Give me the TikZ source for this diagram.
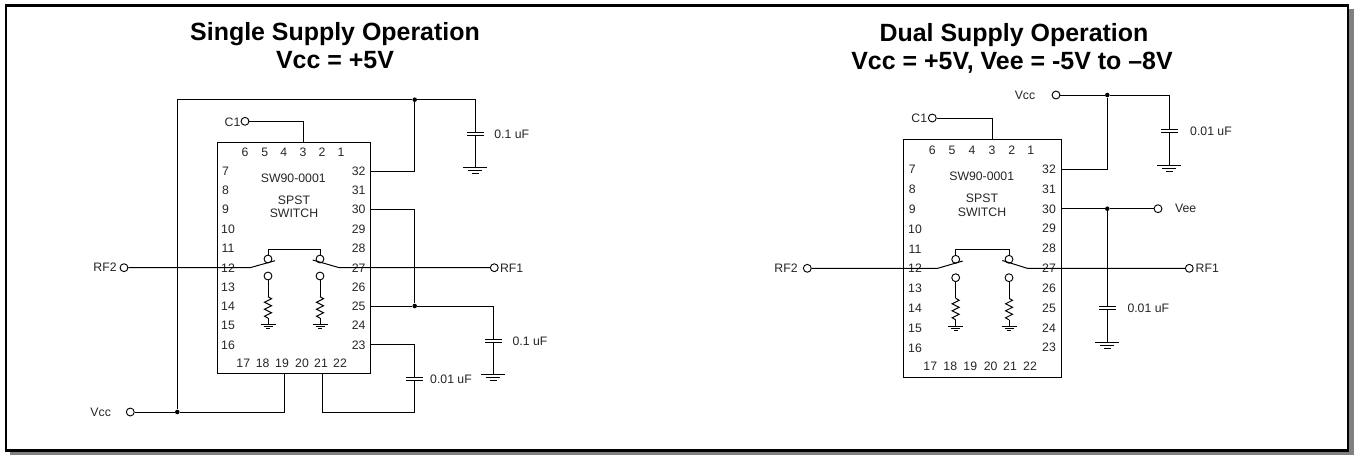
\documentclass[tikz,border=0pt]{standalone}
\usepackage{fontspec}
\setmainfont{Liberation Sans}
\newcommand{\CapAt}[2]{\draw[wire,fill=white] (#1-8,#2-1.6) rectangle (#1+8,#2+1.6);\fill[white] (#1-9,#2-0.9) rectangle (#1+9,#2+0.9);}
\newcommand{\GndAt}[2]{\draw[wire] (#1-12,#2) -- (#1+12,#2) (#1-7,#2+3) -- (#1+7,#2+3) (#1-3.5,#2+6) -- (#1+3.5,#2+6);}
\newcommand{\SmallGnd}[2]{\draw[wire] (#1-7.5,#2) -- (#1+7.5,#2) (#1-4.5,#2+2) -- (#1+4.5,#2+2) (#1-2,#2+4) -- (#1+2,#2+4);}
\newcommand{\ResAt}[2]{\draw[wire] (#1,#2) -- ++(3.5,2) -- ++(-7,3.5) -- ++(7,3.5) -- ++(-7,3.5) -- ++(7,3.5) -- ++(-7,3.5) -- ++(3.5,2);}
\begin{document}
\begin{tikzpicture}[x=0.75pt,y=-0.75pt,
  wire/.style={line width=0.75pt,black},
  term/.style={circle,draw=black,line width=0.7pt,fill=white,minimum size=5.9pt,inner sep=0pt},
  dotj/.style={circle,fill=black,minimum size=3.4pt,inner sep=0pt},
  lbl/.style={font=\fontsize{9.2}{10}\selectfont,inner sep=0pt,text=black!85},
  ttl/.style={font=\fontsize{18.7}{20}\selectfont\bfseries,inner sep=0pt,anchor=base},
  chip/.style={draw=black,line width=0.75pt}]
\useasboundingbox (0,0) rectangle (1354,455);
\fill[black!50] (10,9) rectangle (1354,455);
\draw[line width=1.9pt,fill=white] (6.2,5.3) rectangle (1347.8,450.3);

\node[ttl] (t1a) at (335,40) {Single Supply Operation};
\node[ttl] (t1b) at (335,68) {Vcc = +5V};
\node[ttl] (t2a) at (1014,41.5) {Dual Supply Operation};
\node[ttl] (t2b) at (1012,69) {Vcc = +5V, Vee = -5V to –8V};

% ===== LEFT =====
\node[chip,minimum width=115pt,minimum height=173.5pt,inner sep=0pt] (A) at (293.85,257.8) {};
\foreach \n/\x in {6/245,5/264.7,4/283.7,3/303,2/322,1/341}
  \node[lbl] (Ap\n) at (\x,152.7) {\n};
\foreach \n/\y/\x in {7/171.3/225.5,8/190.5/225.5,9/209.7/225.5,10/229/228,11/248.5/228,12/268/228,13/287/228,14/306.5/228,15/325.7/228,16/345/228}
  \node[lbl] (Ap\n) at (\x,\y) {\n};
\foreach \n/\y in {32/171.3,31/190.5,30/209.7,29/229,28/248.5,27/268,26/287,25/306.5,24/325.7,23/345}
  \node[lbl] (Ap\n) at (358.7,\y) {\n};
\foreach \n/\x in {17/243.3,18/262.7,19/282,20/302,21/321,22/340}
  \node[lbl] (Ap\n) at (\x,363.3) {\n};
\node[lbl] (Asw) at (293.3,178) {SW90-0001};
\node[lbl] (As1) at (294,200) {SPST};
\node[lbl] (As2) at (294,213.3) {SWITCH};

\node[term] (AC1) at (245,121.3) {};
\node[lbl] (AC1l) at (232.5,122) {C1};
\node[term] (ARF2) at (124,267.7) {};
\node[lbl] (ARF2l) at (105,267.5) {RF2};
\node[term] (ARF1) at (494.3,267.7) {};
\node[lbl] (ARF1l) at (511.7,268) {RF1};
\node[term] (AVcc) at (130.3,412) {};
\node[lbl] (AVccl) at (100.7,412.5) {Vcc};
\node[dotj] (Aj1) at (414.7,99.7) {};
\node[dotj] (Aj2) at (414.7,306) {};
\node[dotj] (Aj3) at (177.3,412) {};
\node[term] (Asa) at (268,259) {};
\node[term] (Asb) at (320,259) {};
\node[term] (Ara) at (268,276) {};
\node[term] (Arb) at (320,276) {};
\node[lbl] (Ac1l) at (511.7,134) {0.1 uF};
\node[lbl] (Ac2l) at (530,341) {0.1 uF};
\node[lbl] (Ac3l) at (451,379.5) {0.01 uF};

\draw[wire] (AC1) -- (303,121.3) -- (303,142.3);
\draw[wire] (Aj3) -- (177.3,99.7) -- (Aj1) -- (475,99.7) -- (475,167);
\CapAt{475}{134}
\GndAt{475}{167}
\draw[wire] (Aj1) -- (414.7,171.3) -- (370.7,171.3);
\draw[wire] (370.7,209.7) -- (414.7,209.7) -- (Aj2);
\draw[wire] (370.7,306) -- (Aj2) -- (493.3,306) -- (493.3,374);
\CapAt{493.3}{340.7}
\GndAt{493.3}{374}
\draw[wire] (370.7,344.3) -- (414.3,344.3) -- (414.3,412) -- (322.7,412) -- (322.7,373.3);
\CapAt{414.3}{379}
\draw[wire] (AVcc) -- (Aj3) -- (284.3,412) -- (284.3,373.3);
\draw[wire] (ARF2) -- (250,267.7) -- (275,260.7);
\draw[wire] (ARF1) -- (339.3,267.7) -- (312.7,260);
\draw[wire] (Asa) -- (268,249) -- (320,249) -- (Asb);
\draw[wire] (Ara) -- (268,296.7); \ResAt{268}{296.7}
\draw[wire] (Arb) -- (320,296.7); \ResAt{320}{296.7}
\draw[wire] (268,318) -- (268,324.3); \SmallGnd{268}{324.3}
\draw[wire] (320,318) -- (320,324.3); \SmallGnd{320}{324.3}

% ===== RIGHT =====
\node[chip,minimum width=118.8pt,minimum height=178.5pt,inner sep=0pt] (B) at (982.5,258.3) {};
\foreach \n/\x in {6/932.3,5/952,4/972,3/992,2/1011.7,1/1030.7}
  \node[lbl] (Bp\n) at (\x,150.7) {\n};
\foreach \n/\y/\x in {7/169.3/912.3,8/189/912.3,9/209/912.3,10/229/915,11/249/915,12/268.7/915,13/288.3/915,14/308.5/915,15/328/915,16/348/915}
  \node[lbl] (Bp\n) at (\x,\y) {\n};
\foreach \n/\y in {32/169.3,31/189,30/209,29/228.7,28/248.7,27/268.7,26/288.3,25/308.3,24/328,23/347.7}
  \node[lbl] (Bp\n) at (1049,\y) {\n};
\foreach \n/\x in {17/930.3,18/950.3,19/970.3,20/990.7,21/1010,22/1030}
  \node[lbl] (Bp\n) at (\x,366.7) {\n};
\node[lbl] (Bsw) at (981.7,176) {SW90-0001};
\node[lbl] (Bs1) at (982,198.3) {SPST};
\node[lbl] (Bs2) at (982,212.3) {SWITCH};

\node[term] (BC1) at (932.3,118) {};
\node[lbl] (BC1l) at (919.3,118.5) {C1};
\node[term] (BRF2) at (807.3,268.3) {};
\node[lbl] (BRF2l) at (786,268.3) {RF2};
\node[term] (BRF1) at (1189.3,268.3) {};
\node[lbl] (BRF1l) at (1207.3,268.5) {RF1};
\node[term] (BVcc) at (1056,95) {};
\node[lbl] (BVccl) at (1025,95.5) {Vcc};
\node[term] (BVee) at (1158,208.7) {};
\node[lbl] (BVeel) at (1185.7,208.7) {Vee};
\node[dotj] (Bj1) at (1107.3,95) {};
\node[dotj] (Bj2) at (1107.3,208.7) {};
\node[term] (Bsa) at (955.7,259.3) {};
\node[term] (Bsb) at (1009,259.3) {};
\node[term] (Bra) at (955.7,277.7) {};
\node[term] (Brb) at (1009,277.7) {};
\node[lbl] (Bc1l) at (1211,131) {0.01 uF};
\node[lbl] (Bc2l) at (1148.3,308.5) {0.01 uF};

\draw[wire] (BC1) -- (992,118) -- (992,139.3);
\draw[wire] (BVcc) -- (Bj1) -- (1169.3,95) -- (1169.3,165);
\CapAt{1169.3}{130.7}
\GndAt{1169.3}{165}
\draw[wire] (Bj1) -- (1107.3,169.3) -- (1061.7,169.3);
\draw[wire] (1061.7,208.7) -- (Bj2) -- (BVee);
\draw[wire] (Bj2) -- (1107.3,342.3);
\CapAt{1107.3}{308}
\GndAt{1107.3}{342.3}
\draw[wire] (BRF2) -- (937.7,268.3) -- (962.7,261);
\draw[wire] (BRF1) -- (1027.3,268.3) -- (1002.3,260.5);
\draw[wire] (Bsa) -- (955.7,249.3) -- (1009,249.3) -- (Bsb);
\draw[wire] (Bra) -- (955.7,298.3); \ResAt{955.7}{298.3}
\draw[wire] (Brb) -- (1009,298.3); \ResAt{1009}{298.3}
\draw[wire] (955.7,319.8) -- (955.7,326.7); \SmallGnd{955.7}{326.7}
\draw[wire] (1009,319.8) -- (1009,326.7); \SmallGnd{1009}{326.7}
\end{tikzpicture}
\end{document}
